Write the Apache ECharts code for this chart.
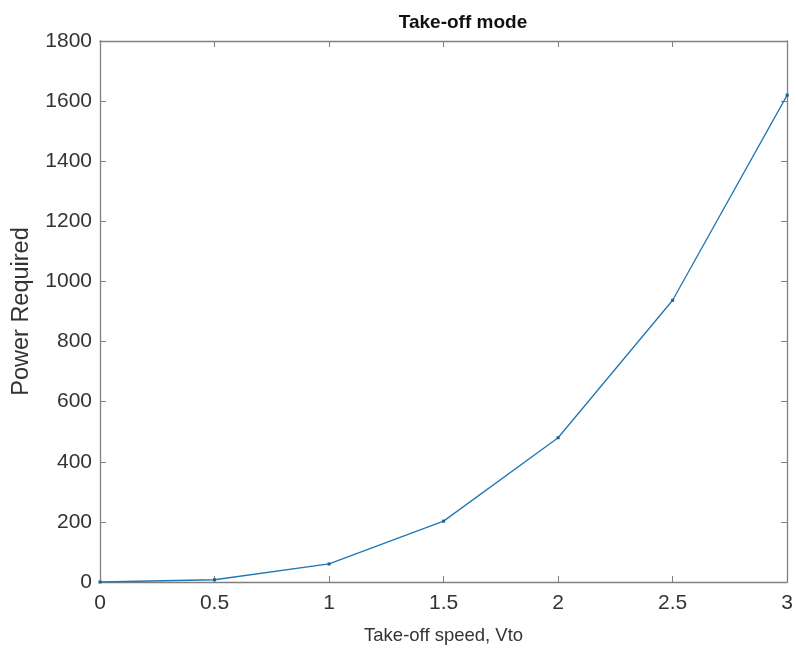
<!DOCTYPE html>
<html>
<head>
<meta charset="utf-8">
<script src="https://cdn.jsdelivr.net/npm/echarts@6/dist/echarts.min.js"></script>
<style>
  html, body { margin: 0; padding: 0; background: #fff; }
  #chart { width: 796px; height: 650px; }
</style>
</head>
<body>
<div id="chart"></div>
<script>
// Take-off mode: power required vs take-off speed
const speeds = [0, 0.5, 1, 1.5, 2, 2.5, 3];
const power = [0, 7.5, 60, 202.5, 480, 937.5, 1620];

const AX = "#808080";
const TXT = "#333";
const FONT = "Liberation Sans, Arial, sans-serif";

const chart = echarts.init(document.getElementById("chart"));

// shared look for all four box sides, MATLAB style (ticks point inward)
function axis(extra) {
  return Object.assign({
    type: "value",
    axisLine: { show: true, onZero: false, lineStyle: { color: AX, width: 1.3 } },
    axisTick: { show: true, inside: true, length: 6, lineStyle: { color: AX } },
    splitLine: { show: false },
  }, extra);
}

chart.setOption({
  backgroundColor: "#fff",
  animation: false,
  title: {
    text: "Take-off mode", left: 458, top: 8, textAlign: "center",
    textStyle: { fontFamily: FONT, fontSize: 19, fontWeight: "bold", color: "#111" },
  },
  grid: { left: 100, right: 7, top: 41, bottom: 67 },
  xAxis: [
    axis({
      min: 0, max: 3, interval: 0.5, position: "bottom",
      name: "Take-off speed, Vto", nameLocation: "middle", nameGap: 44,
      nameTextStyle: { fontFamily: FONT, fontSize: 18.5, color: TXT },
      axisLabel: { fontFamily: FONT, fontSize: 21, color: TXT, margin: 11 },
    }),
    axis({ min: 0, max: 3, interval: 0.5, position: "top", axisLabel: { show: false } }),
  ],
  yAxis: [
    axis({
      min: 0, max: 1800, interval: 200, position: "left",
      name: "Power Required", nameLocation: "middle", nameGap: 66,
      nameTextStyle: { fontFamily: FONT, fontSize: 23.5, color: TXT },
      axisLabel: { fontFamily: FONT, fontSize: 21, color: TXT, margin: 8, formatter: (v) => String(v) },
    }),
    axis({ min: 0, max: 1800, interval: 200, position: "right", axisLabel: { show: false } }),
  ],
  series: [{
    type: "line",
    data: speeds.map((s, i) => [s, power[i]]),
    symbol: "rect", symbolSize: 3, showSymbol: true,
    lineStyle: { color: "#1f77b4", width: 1.3 },
    itemStyle: { color: "#1a5f8c" },
  }],
});
</script>
</body>
</html>
